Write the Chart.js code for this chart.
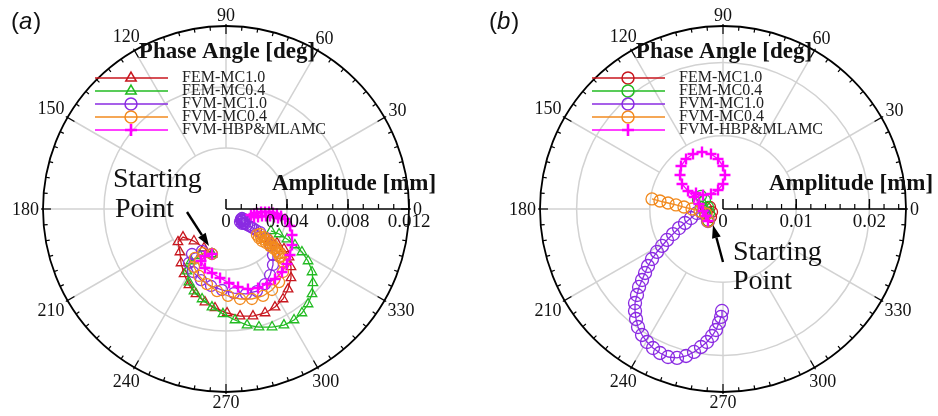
<!DOCTYPE html>
<html><head><meta charset="utf-8">
<script src="https://cdn.jsdelivr.net/npm/chart.js@4.4.1/dist/chart.umd.min.js"></script>
<style>
html,body{margin:0;padding:0;background:#fff;}
#wrap{position:relative;width:938px;height:416px;background:#fff;}
.c{position:absolute;top:0;width:469px;height:416px;}
</style></head><body>
<div id="wrap">
<div class="c" style="left:0"><canvas id="ca" width="469" height="416"></canvas></div>
<div class="c" style="left:469px"><canvas id="cb" width="469" height="416"></canvas></div>
</div>
<script>
// ---------------- DATA ----------------
const seriesNames = ['FEM-MC1.0','FEM-MC0.4','FVM-MC1.0','FVM-MC0.4','FVM-HBP&MLAMC'];
const phaseTickDeg = [0,30,60,90,120,150,180,210,240,270,300,330];
const phaseTickLabels = ['0','30','60','90','120','150','180','210','240','270','300','330'];
const ampTicksA = [0,0.004,0.008,0.012];
const ampTickLabelsA = ['0','0.004','0.008','0.012'];
const ampTicksB = [0,0.01,0.02];
const ampTickLabelsB = ['0','0.01','0.02'];

// Panel (a): in-phase (re) and quadrature (im) parts of the response, mm
const a_fem10_re = [-0.00092,-0.00144,-0.00210,-0.00282,-0.00315,-0.00302,-0.00295,-0.00275,-0.00243,-0.00197,-0.00138,-0.00072,0.00007,0.00092,0.00177,0.00256,0.00321,0.00374,0.00407,0.00426,0.00426,0.00413,0.00380,0.00334,0.00289];
const a_fem10_im = [-0.00295,-0.00256,-0.00210,-0.00184,-0.00216,-0.00282,-0.00354,-0.00426,-0.00498,-0.00557,-0.00610,-0.00649,-0.00682,-0.00702,-0.00702,-0.00682,-0.00643,-0.00590,-0.00525,-0.00452,-0.00380,-0.00315,-0.00262,-0.00223,-0.00197];
const a_fem04_re = [-0.00092,-0.00170,-0.00230,-0.00256,-0.00243,-0.00210,-0.00157,-0.00092,-0.00020,0.00059,0.00138,0.00216,0.00302,0.00380,0.00446,0.00498,0.00538,0.00564,0.00570,0.00564,0.00538,0.00498,0.00452,0.00400,0.00348,0.00295];
const a_fem04_im = [-0.00295,-0.00308,-0.00341,-0.00407,-0.00479,-0.00538,-0.00590,-0.00643,-0.00688,-0.00728,-0.00761,-0.00774,-0.00774,-0.00761,-0.00728,-0.00682,-0.00623,-0.00557,-0.00485,-0.00413,-0.00341,-0.00282,-0.00236,-0.00197,-0.00164,-0.00144];
const a_fvm10_re = [-0.00092,-0.00157,-0.00223,-0.00243,-0.00216,-0.00164,-0.00098,-0.00026,0.00052,0.00131,0.00203,0.00256,0.00289,0.00308,0.00308,0.00295,0.00262,0.00223,0.00197,0.00177,0.00164,0.00151,0.00138,0.00125,0.00111,0.00105,0.00098,0.00105,0.00118,0.00125,0.00118,0.00105,0.00092,0.00098,0.00111];
const a_fvm10_im = [-0.00295,-0.00275,-0.00295,-0.00354,-0.00413,-0.00466,-0.00505,-0.00531,-0.00551,-0.00557,-0.00538,-0.00492,-0.00433,-0.00367,-0.00302,-0.00243,-0.00190,-0.00151,-0.00138,-0.00125,-0.00118,-0.00111,-0.00105,-0.00098,-0.00092,-0.00079,-0.00066,-0.00059,-0.00066,-0.00079,-0.00092,-0.00098,-0.00085,-0.00072,-0.00072];
const a_fvm04_re = [-0.00092,-0.00151,-0.00203,-0.00210,-0.00177,-0.00125,-0.00059,0.00013,0.00092,0.00170,0.00243,0.00302,0.00348,0.00374,0.00380,0.00374,0.00354,0.00354,0.00334,0.00328,0.00308,0.00302,0.00282,0.00275,0.00256,0.00249,0.00230,0.00223,0.00203,0.00216,0.00236,0.00262,0.00289,0.00315,0.00341,0.00361];
const a_fvm04_im = [-0.00295,-0.00289,-0.00321,-0.00380,-0.00439,-0.00492,-0.00538,-0.00570,-0.00590,-0.00590,-0.00570,-0.00531,-0.00479,-0.00413,-0.00354,-0.00328,-0.00315,-0.00289,-0.00275,-0.00256,-0.00249,-0.00230,-0.00223,-0.00203,-0.00203,-0.00184,-0.00184,-0.00164,-0.00170,-0.00190,-0.00210,-0.00223,-0.00243,-0.00262,-0.00289,-0.00308];
const a_hbp_re = [-0.00092,-0.00138,-0.00164,-0.00138,-0.00092,-0.00039,0.00020,0.00079,0.00144,0.00210,0.00269,0.00321,0.00367,0.00400,0.00420,0.00433,0.00433,0.00420,0.00387,0.00361,0.00334,0.00308,0.00282,0.00256,0.00230,0.00203,0.00184,0.00164,0.00184,0.00210,0.00236,0.00262,0.00289,0.00315,0.00341];
const a_hbp_im = [-0.00295,-0.00308,-0.00341,-0.00387,-0.00420,-0.00452,-0.00485,-0.00511,-0.00525,-0.00518,-0.00492,-0.00459,-0.00413,-0.00361,-0.00302,-0.00236,-0.00170,-0.00111,-0.00066,-0.00046,-0.00033,-0.00026,-0.00020,-0.00020,-0.00020,-0.00026,-0.00033,-0.00039,-0.00052,-0.00052,-0.00046,-0.00046,-0.00046,-0.00052,-0.00059];

// Panel (b)
const b_fem10_re = [-0.00205,-0.00164,-0.00150,-0.00178,-0.00232,-0.00246];
const b_fem10_im = [-0.00164,-0.00109,-0.00041,0.00027,0.00014,-0.00055];
const b_fem04_re = [-0.00205,-0.00246,-0.00301,-0.00342,-0.00301,-0.00246,-0.00205,-0.00191];
const b_fem04_im = [-0.00164,-0.00068,0.00027,0.00123,0.00178,0.00123,0.00027,-0.00055];
const b_fvm10_re = [-0.00205,-0.00273,-0.00355,-0.00437,-0.00519,-0.00601,-0.00683,-0.00765,-0.00833,-0.00902,-0.00970,-0.01025,-0.01065,-0.01106,-0.01147,-0.01175,-0.01202,-0.01202,-0.01188,-0.01161,-0.01106,-0.01038,-0.00956,-0.00861,-0.00751,-0.00628,-0.00505,-0.00396,-0.00301,-0.00219,-0.00150,-0.00096,-0.00055,-0.00027,-0.00014];
const b_fvm10_im = [-0.00164,-0.00055,-0.00055,-0.00123,-0.00191,-0.00260,-0.00342,-0.00423,-0.00505,-0.00587,-0.00683,-0.00779,-0.00874,-0.00970,-0.01065,-0.01175,-0.01284,-0.01393,-0.01503,-0.01612,-0.01721,-0.01817,-0.01899,-0.01967,-0.02022,-0.02035,-0.02008,-0.01953,-0.01885,-0.01817,-0.01735,-0.01653,-0.01557,-0.01475,-0.01393];
const b_fvm04_re = [-0.00205,-0.00232,-0.00314,-0.00423,-0.00533,-0.00642,-0.00751,-0.00861,-0.00970];
const b_fvm04_im = [-0.00164,-0.00068,-0.00027,0,0.00027,0.00055,0.00082,0.00109,0.00137];
const b_hbp_re = [-0.00205,-0.00232,-0.00273,-0.00328,-0.00396,-0.00478,-0.00560,-0.00587,-0.00574,-0.00505,-0.00410,-0.00287,-0.00164,-0.00068,0,0.00027,0,-0.00068,-0.00164,-0.00273,-0.00369];
const b_hbp_im = [-0.00164,-0.00096,-0.00027,0.00068,0.00164,0.00246,0.00342,0.00464,0.00587,0.00683,0.00751,0.00779,0.00751,0.00683,0.00587,0.00464,0.00342,0.00260,0.00205,0.00191,0.00219];

// ---------------- STYLE ----------------
const colors = ['#c8161e','#22bb22','#8a2be2','#f28a1e','#ff00ff'];
const orders = [5,4,3,2,1];
const SERIF = '"Liberation Serif","Times New Roman",serif';

function drawMarker(ctx, style, x, y, r, color, lw) {
  ctx.save();
  ctx.strokeStyle = color; ctx.lineWidth = lw;
  ctx.beginPath();
  if (style === 'circle') { ctx.arc(x, y, r, 0, 2*Math.PI); }
  else if (style === 'triangle') {
    for (let k=0;k<3;k++){ const a = k*2*Math.PI/3; const px=x+Math.sin(a)*r, py=y-Math.cos(a)*r; if(k===0)ctx.moveTo(px,py); else ctx.lineTo(px,py);} ctx.closePath();
  } else { ctx.moveTo(x-r,y); ctx.lineTo(x+r,y); ctx.moveTo(x,y-r); ctx.lineTo(x,y+r); }
  ctx.stroke();
  ctx.restore();
}

function arrow(ctx, x0, y0, x1, y1) {
  const ang = Math.atan2(y1-y0, x1-x0), L = 13, W = 4.5;
  const bx = x1 - L*Math.cos(ang), by = y1 - L*Math.sin(ang);
  ctx.save();
  ctx.strokeStyle = '#000'; ctx.fillStyle = '#000'; ctx.lineWidth = 2.4;
  ctx.beginPath(); ctx.moveTo(x0,y0); ctx.lineTo(bx,by); ctx.stroke();
  ctx.beginPath(); ctx.moveTo(x1,y1);
  ctx.lineTo(bx + W*Math.sin(ang), by - W*Math.cos(ang));
  ctx.lineTo(bx - W*Math.sin(ang), by + W*Math.cos(ang));
  ctx.closePath(); ctx.fill();
  ctx.restore();
}

const polarPlugin = {
  id: 'polar',
  beforeDatasetsDraw(chart, args, o) {
    const ctx = chart.ctx, xs = chart.scales.x, ys = chart.scales.y;
    const cx = xs.getPixelForValue(0), cy = ys.getPixelForValue(0);
    const P = (a, d) => [xs.getPixelForValue(a*Math.cos(d*Math.PI/180)), ys.getPixelForValue(a*Math.sin(d*Math.PI/180))];
    ctx.save();
    ctx.strokeStyle = '#d2d2d2'; ctx.lineWidth = 1.5;
    o.rings.forEach(v => { const rr = xs.getPixelForValue(v) - cx; ctx.beginPath(); ctx.arc(cx, cy, rr, 0, 2*Math.PI); ctx.stroke(); });
    phaseTickDeg.forEach(d => {
      if (d === 0) return;
      const [x1,y1] = P(o.rings[0], d), [x2,y2] = P(o.rmax, d);
      ctx.beginPath(); ctx.moveTo(x1,y1); ctx.lineTo(x2,y2); ctx.stroke();
    });
    ctx.restore();
  },
  afterDatasetsDraw(chart, args, o) {
    const ctx = chart.ctx, xs = chart.scales.x, ys = chart.scales.y;
    const cx = xs.getPixelForValue(0), cy = ys.getPixelForValue(0);
    const R = xs.getPixelForValue(o.rmax) - cx;
    ctx.save();
    ctx.strokeStyle = '#000'; ctx.lineWidth = 1.8;
    ctx.beginPath(); ctx.arc(cx, cy, R, 0, 2*Math.PI); ctx.stroke();
    ctx.lineWidth = 1.2;
    for (let d = 0; d < 360; d += 5) {
      const major = d % 30 === 0, l = major ? 8 : 4;
      const c = Math.cos(d*Math.PI/180), s = Math.sin(d*Math.PI/180);
      const r1 = R - l, r2 = major ? R + 2 : R;
      ctx.beginPath(); ctx.moveTo(cx + r1*c, cy - r1*s); ctx.lineTo(cx + r2*c, cy - r2*s); ctx.stroke();
    }
    ctx.lineWidth = 1.6;
    ctx.beginPath(); ctx.moveTo(cx, cy); ctx.lineTo(cx + R, cy); ctx.stroke();
    ctx.lineWidth = 1.2;
    const n = Math.round(o.rmax / o.minor);
    for (let k = 1; k < n; k++) {
      const x = xs.getPixelForValue(k*o.minor);
      ctx.beginPath(); ctx.moveTo(x, cy); ctx.lineTo(x, cy - 5); ctx.stroke();
    }
    ctx.lineWidth = 1.5;
    o.ampTicks.forEach(v => { const x = xs.getPixelForValue(v); ctx.beginPath(); ctx.moveTo(x, cy); ctx.lineTo(x, cy - 10); ctx.stroke(); });
    ctx.fillStyle = '#111';
    ctx.font = '19px ' + SERIF; ctx.textAlign = 'center'; ctx.textBaseline = 'middle';
    o.ampTicks.forEach((v, i) => ctx.fillText(o.ampLabels[i], xs.getPixelForValue(v), cy + 13));
    ctx.font = '18px ' + SERIF;
    phaseTickDeg.forEach((d, i) => {
      const t = phaseTickLabels[i], w = ctx.measureText(t).width;
      const c = Math.cos(d*Math.PI/180), s = Math.sin(d*Math.PI/180);
      const rr = R + 4 + Math.abs(c)*w/2 + Math.abs(s)*6.5;
      ctx.fillText(t, cx + rr*c, cy - rr*s + 1);
    });
    ctx.font = 'bold 23px ' + SERIF; ctx.textBaseline = 'alphabetic';
    ctx.fillText('Phase Angle [deg]', cx + 1, cy - 151);
    ctx.textAlign = 'left';
    ctx.fillText('Amplitude [mm]', cx + 46, cy - 19);
    const ly = [-131,-118,-105,-92,-79];
    ctx.font = '16px ' + SERIF; ctx.textBaseline = 'middle';
    seriesNames.forEach((nm, i) => {
      const y = cy + ly[i];
      ctx.strokeStyle = colors[i]; ctx.lineWidth = 1.6;
      ctx.beginPath(); ctx.moveTo(cx - 131, y); ctx.lineTo(cx - 58, y); ctx.stroke();
      drawMarker(ctx, o.markers[i], cx - 95, y, o.markers[i]==='circle'?6:(o.markers[i]==='cross'?6:6), colors[i], o.markers[i]==='cross'?2.6:1.5);
      ctx.fillStyle = '#222';
      ctx.fillText(nm, cx - 44, y);
    });
    ctx.fillStyle = '#111'; ctx.textBaseline = 'alphabetic';
    ctx.font = '24px "Liberation Sans",Arial,sans-serif';
    const px = o.panelX, pyy = 29;
    ctx.fillText('(', px, pyy);
    let w1 = ctx.measureText('(').width;
    ctx.font = 'italic 24px "Liberation Sans",Arial,sans-serif';
    ctx.fillText(o.panel, px + w1, pyy);
    let w2 = ctx.measureText(o.panel).width;
    ctx.font = '24px "Liberation Sans",Arial,sans-serif';
    ctx.fillText(')', px + w1 + w2 + 1, pyy);
    ctx.font = '28px ' + SERIF; ctx.fillStyle = '#111';
    ctx.fillText('Starting', cx + o.st[0], cy + o.st[1]);
    ctx.fillText('Point', cx + o.pt[0], cy + o.pt[1]);
    arrow(ctx, cx + o.ar[0], cy + o.ar[1], cx + o.ar[2], cy + o.ar[3]);
    ctx.restore();
  }
};

function makeChart(id, series, markers, radii, o) {
  return new Chart(document.getElementById(id), {
    type: 'scatter',
    data: { datasets: series.map((s, i) => ({
      label: seriesNames[i],
      data: s[0].map((v, k) => ({ x: v, y: s[1][k] })),
      showLine: true, tension: 0,
      borderColor: colors[i], backgroundColor: 'rgba(0,0,0,0)', borderWidth: 1.3,
      pointStyle: markers[i], pointRadius: radii[i], pointHoverRadius: radii[i],
      pointBorderColor: colors[i], pointBackgroundColor: 'rgba(0,0,0,0)',
      pointBorderWidth: markers[i] === 'cross' ? 2.4 : 1.3,
      order: orders[i]
    })) },
    options: {
      responsive: false, animation: false, devicePixelRatio: 1, events: [],
      layout: { padding: o.pad },
      scales: {
        x: { type: 'linear', min: -o.rmax, max: o.rmax, display: false },
        y: { type: 'linear', min: -o.rmax, max: o.rmax, display: false }
      },
      plugins: { legend: { display: false }, tooltip: { enabled: false }, polar: o }
    },
    plugins: [polarPlugin]
  });
}

const markersA = ['triangle','triangle','circle','circle','cross'];
const markersB = ['circle','circle','circle','circle','cross'];

makeChart('ca',
  [[a_fem10_re,a_fem10_im],[a_fem04_re,a_fem04_im],[a_fvm10_re,a_fvm10_im],[a_fvm04_re,a_fvm04_im],[a_hbp_re,a_hbp_im]],
  markersA, [5.5,5.5,5.5,5.5,5.5],
  { rmax: 0.012, rings: [0.004, 0.008], minor: 0.001, ampTicks: ampTicksA, ampLabels: ampTickLabelsA,
    markers: markersA, panel: 'a', panelX: 11,
    st: [-113,-22], pt: [-111,8], ar: [-39,3,-17,37],
    pad: { left: 43, right: 60, top: 26, bottom: 24 } });

makeChart('cb',
  [[b_fem10_re,b_fem10_im],[b_fem04_re,b_fem04_im],[b_fvm10_re,b_fvm10_im],[b_fvm04_re,b_fvm04_im],[b_hbp_re,b_hbp_im]],
  markersB, [5.5,5.5,6.5,6,5.5],
  { rmax: 0.025, rings: [0.01, 0.02], minor: 0.002, ampTicks: ampTicksB, ampLabels: ampTickLabelsB,
    markers: markersB, panel: 'b', panelX: 20,
    st: [10,51], pt: [10,80], ar: [0,53,-10,16],
    pad: { left: 71, right: 32, top: 26, bottom: 24 } });
</script>
</body></html>
